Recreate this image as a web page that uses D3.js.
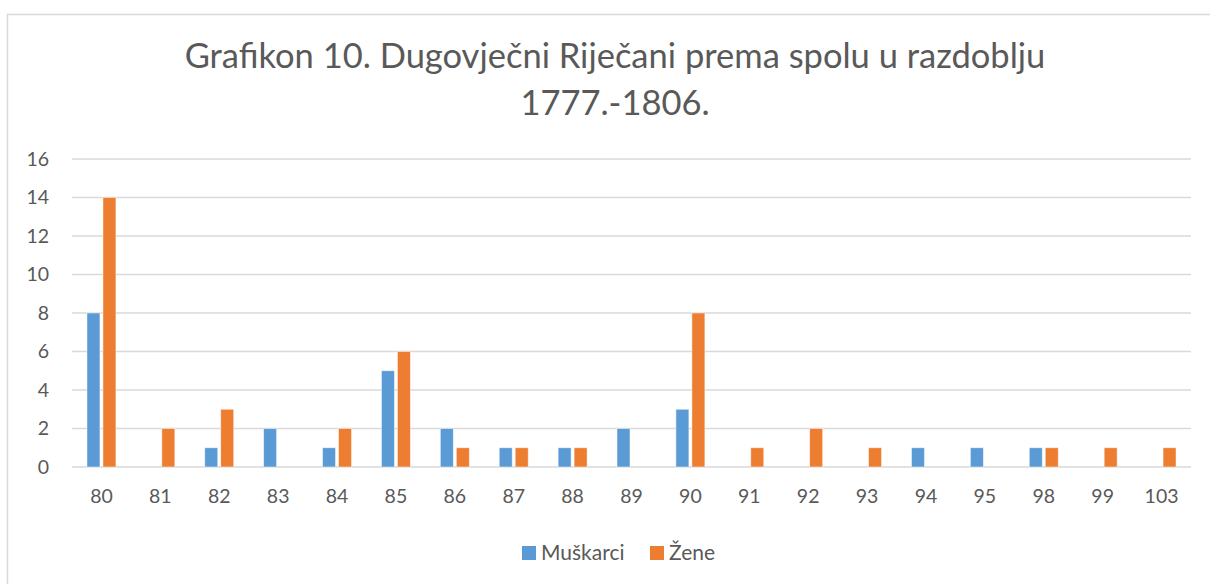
<!DOCTYPE html>
<html>
<head>
<meta charset="utf-8">
<script src="https://cdn.jsdelivr.net/npm/d3@7"></script>
<style>
  body { margin: 0; background: #fff; }
  text { font-family: Lato, "Open Sans", sans-serif; fill: #595959; }
</style>
</head>
<body>
<svg width="1210" height="584"></svg>
<script>
// data
var categories = ["80", "81", "82", "83", "84", "85", "86", "87", "88", "89", "90", "91", "92", "93", "94", "95", "98", "99", "103"];
var muskarci = [8, 0, 1, 2, 1, 5, 2, 1, 1, 2, 3, 0, 0, 0, 1, 1, 1, 0, 0];
var zene     = [14, 2, 3, 0, 2, 6, 1, 1, 1, 0, 8, 1, 2, 1, 0, 0, 1, 1, 1];
var seriesNames = ["Muškarci", "Žene"];
var seriesColors = ["#5B9BD5", "#ED7D31"];
var yTicks = [0, 2, 4, 6, 8, 10, 12, 14, 16];
var titleLines = ["Grafikon 10. Dugovječni Riječani prema spolu u razdoblju", "1777.-1806."];

var svg = d3.select("svg");

// outer chart frame (runs off the right and bottom edges)
svg.append("rect")
    .attr("x", 7.5).attr("y", 14.5)
    .attr("width", 1300).attr("height", 700)
    .attr("fill", "none")
    .attr("stroke", "#D9D9D9")
    .attr("stroke-width", 1.5);

var plotLeft = 72, plotRight = 1191, plotTop = 159, plotBottom = 467;

var x0 = d3.scaleBand()
    .domain(categories)
    .range([plotLeft, plotRight])
    .paddingInner(0.508)
    .paddingOuter(0.254);

var x1 = d3.scaleBand()
    .domain(seriesNames)
    .range([0, x0.bandwidth()])
    .paddingInner(0.1875);

var y = d3.scaleLinear()
    .domain([0, 16])
    .range([plotBottom, plotTop]);

// gridlines
svg.append("g")
    .selectAll("line")
    .data(yTicks)
    .enter().append("line")
    .attr("x1", plotLeft).attr("x2", plotRight)
    .attr("y1", function(d) { return y(d); })
    .attr("y2", function(d) { return y(d); })
    .attr("stroke", "#D9D9D9")
    .attr("stroke-width", 1.3);

// y axis labels
var yAxis = svg.append("g")
    .attr("transform", "translate(" + (plotLeft - 23) + ",0)")
    .call(d3.axisLeft(y).tickValues(yTicks).tickSize(0).tickPadding(0));
yAxis.select(".domain").remove();
yAxis.selectAll("text")
    .attr("font-size", 19.5)
    .attr("font-family", null)
    .attr("fill", "#595959");

// x axis labels
var xAxis = svg.append("g")
    .attr("transform", "translate(0," + (plotBottom + 22) + ")")
    .call(d3.axisBottom(x0).tickSize(0).tickPadding(0).tickSizeOuter(0));
xAxis.select(".domain").remove();
xAxis.selectAll("text")
    .attr("font-size", 19.5)
    .attr("font-family", null)
    .attr("fill", "#595959")
    .attr("dy", "0.71em");

// bars
var rows = categories.map(function(c, i) {
    return { cat: c, values: [muskarci[i], zene[i]] };
});

var groups = svg.append("g")
    .selectAll("g")
    .data(rows)
    .enter().append("g")
    .attr("transform", function(d) { return "translate(" + x0(d.cat) + ",0)"; });

groups.selectAll("rect")
    .data(function(d) {
        return d.values.map(function(v, j) { return { s: seriesNames[j], v: v, c: seriesColors[j] }; })
            .filter(function(e) { return e.v > 0; });
    })
    .enter().append("rect")
    .attr("x", function(d) { return x1(d.s); })
    .attr("width", x1.bandwidth())
    .attr("y", function(d) { return y(d.v); })
    .attr("height", function(d) { return y(0) - y(d.v); })
    .attr("fill", function(d) { return d.c; })
    .attr("stroke", "#fff")
    .attr("stroke-opacity", 0.6)
    .attr("stroke-width", 0.8);

// title
svg.append("g")
    .selectAll("text")
    .data(titleLines)
    .enter().append("text")
    .attr("x", 615)
    .attr("y", function(d, i) { return 68 + i * 47; })
    .attr("text-anchor", "middle")
    .attr("font-size", 34.5)
    .text(function(d) { return d; });

// legend
var legendX = [522, 650];
var legend = svg.append("g")
    .selectAll("g")
    .data(seriesNames)
    .enter().append("g")
    .attr("transform", function(d, i) { return "translate(" + legendX[i] + ",546)"; });

legend.append("rect")
    .attr("width", 14).attr("height", 14)
    .attr("fill", function(d, i) { return seriesColors[i]; });

legend.append("text")
    .attr("x", 19)
    .attr("y", 14)
    .attr("font-size", 21)
    .text(function(d) { return d; });
</script>
</body>
</html>
